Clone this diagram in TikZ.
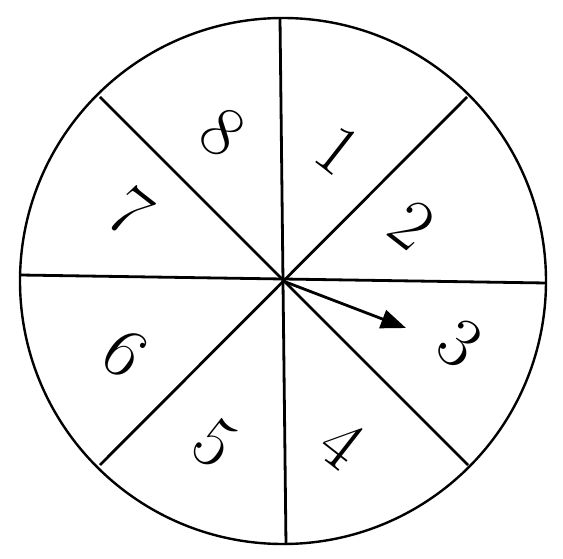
\documentclass[tikz,border=0pt]{standalone}
\usetikzlibrary{arrows.meta}

\begin{document}
\begin{tikzpicture}[
  x=1pt, y=-1pt,
  rim/.style={line width=2.4pt},
  spoke/.style={line width=2.8pt},
  num/.style={font=\fontsize{72}{72}\selectfont, inner sep=0pt, rotate=-38},
  pointer/.style={-{Triangle[length=25pt, width=19pt]}, line width=2.8pt}
]
  \useasboundingbox (0,0) rectangle (563,559);
  \coordinate (o) at (283,281);
  \draw[rim] (o) circle[radius=263];

  % dividing lines
  \draw[spoke] (20,275) -- (546,283);
  \draw[spoke] (280,18) -- (286,545);
  \draw[spoke] (100,97) -- (468,465);
  \draw[spoke] (467,97) -- (100,465);

  % sector numbers
  \node[num] (n1) at (338,150) {1};
  \node[num] (n2) at (412,225) {2};
  \node[num] (n3) at (460,343) {3};
  \node[num] (n4) at (342,444) {4};
  \node[num] (n5) at (215,443) {5};
  \node[num] (n6) at (125,353) {6};
  \node[num] (n7) at (130,212) {7};
  \node[num] (n8) at (223,132) {8};

  \coordinate (tip) at (406,328);
  \draw[pointer] (o) -- (tip);
\end{tikzpicture}
\end{document}
